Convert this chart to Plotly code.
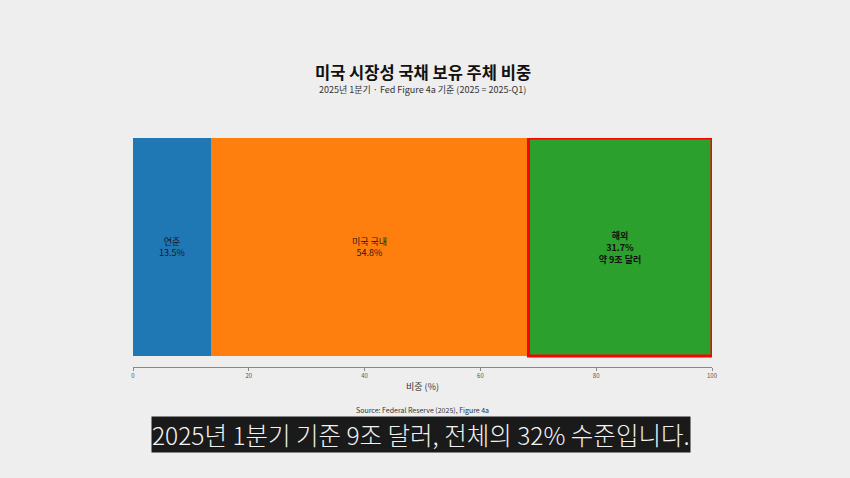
import plotly.graph_objects as go

categories = ["연준", "미국 국내", "해외"]
shares = [13.5, 54.8, 31.7]
colors = ["#1f77b4", "#ff7f0e", "#2ca02c"]
extra = ["", "", "약 9조 달러"]
highlight = "해외"

FONT = "Noto Sans CJK KR"
fig = go.Figure()
for i, (c, v) in enumerate(zip(categories, shares)):
    if c == highlight:
        txt = f"<b>{c}<br>{v}%<br>{extra[i]}</b>"
        tf = dict(size=10, color="#111111", family=FONT)
    else:
        txt = f"{c}<br>{v}%"
        tf = dict(size=9, color="#1a1a1a", family=FONT)
    fig.add_trace(go.Bar(
        y=[""], x=[v], orientation="h", name=c,
        marker=dict(color=colors[i], line=dict(width=0)),
        text=[txt], textposition="inside", insidetextanchor="middle",
        textfont=tf, hoverinfo="skip", width=1,
    ))

# highlight rectangle around the overseas segment
start = sum(shares[:categories.index(highlight)])
end = start + shares[categories.index(highlight)]
fig.add_shape(type="rect", xref="x", yref="y", x0=start, x1=end, y0=-0.5, y1=0.5,
              line=dict(color="#ff0000", width=3), fillcolor="rgba(0,0,0,0)")

fig.update_layout(
    width=850, height=478,
    barmode="stack", bargap=0, showlegend=False,
    paper_bgcolor="#eeeeee", plot_bgcolor="rgba(0,0,0,0)",
    margin=dict(l=133, r=138, t=138, b=111),
    font=dict(family=FONT, color="#222222"),
    uniformtext=dict(mode="show", minsize=6),
    xaxis=dict(range=[0, 100], tickvals=[0, 20, 40, 60, 80, 100],
               tickfont=dict(size=6, color="#555555"), ticks="outside", ticklen=3,
               tickcolor="#888888", showline=True, linecolor="#888888", linewidth=1,
               showgrid=False, zeroline=False,
               title=dict(text="비중 (%)", font=dict(size=9, color="#333333"), standoff=4)),
    yaxis=dict(range=[-0.55, 0.5], showticklabels=False, showgrid=False, zeroline=False,
               showline=False),
)

fig.add_annotation(xref="paper", yref="paper", x=0.5, y=(367 - 72) / 229, yanchor="middle",
                   text="<b>미국 시장성 국채 보유 주체 비중</b>", showarrow=False,
                   font=dict(size=16.5, color="#111111", family=FONT))
fig.add_annotation(xref="paper", yref="paper", x=0.5, y=(367 - 89) / 229, yanchor="middle",
                   text="2025년 1분기 · Fed Figure 4a 기준 (2025 = 2025-Q1)", showarrow=False,
                   font=dict(size=9, color="#333333", family=FONT))
fig.add_annotation(xref="paper", yref="paper", x=0.5, y=(367 - 410) / 229, yanchor="middle",
                   text="Source: Federal Reserve (2025), Figure 4a", showarrow=False,
                   font=dict(size=7, color="#333333", family=FONT))
fig.add_annotation(xref="paper", yref="paper", x=(421 - 133) / 579, y=(367 - 434) / 229,
                   yanchor="middle",
                   text="2025년 1분기 기준 9조 달러, 전체의 32% 수준입니다.", showarrow=False,
                   bgcolor="#1a1a1a", borderpad=0,
                   font=dict(size=24.5, color="#f2f2f2",
                             family="Noto Sans CJK KR Light, Noto Sans CJK KR", weight=300))

fig.write_html("out.html", config={"displayModeBar": False},
               post_script="document.body.style.margin='0';")
